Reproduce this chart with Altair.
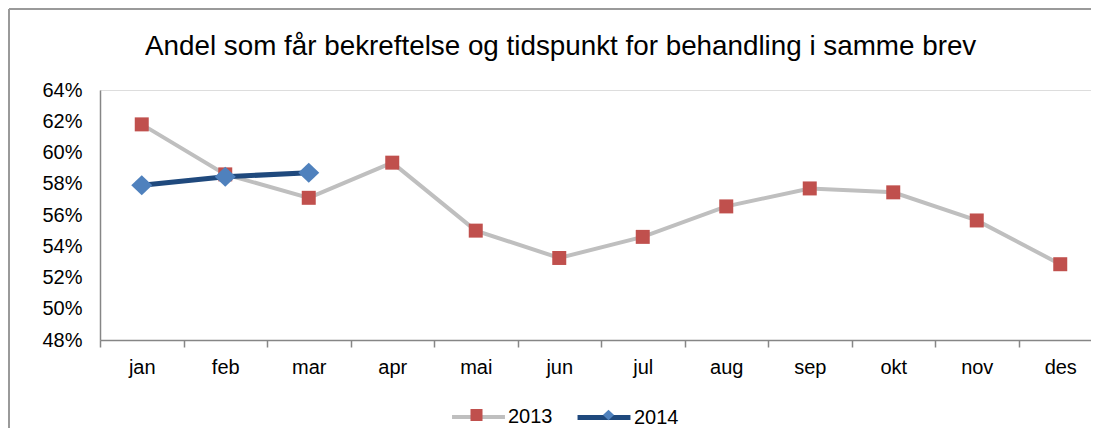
import altair as alt
import pandas as pd

months = ["jan", "feb", "mar", "apr", "mai", "jun", "jul", "aug", "sep", "okt", "nov", "des"]
v2013 = [61.8, 58.6, 57.1, 59.35, 55.0, 53.25, 54.6, 56.55, 57.7, 57.45, 55.65, 52.85]
v2014 = [57.9, 58.45, 58.7]
y_ticks = [0.48, 0.50, 0.52, 0.54, 0.56, 0.58, 0.60, 0.62, 0.64]

rows = []
for m, v in zip(months, v2013):
    rows.append({"month": m, "value": v / 100, "series": "2013"})
for m, v in zip(months, v2014):
    rows.append({"month": m, "value": v / 100, "series": "2014"})
df = pd.DataFrame(rows)

FONT = "Liberation Sans"
SQUARE = "M-0.227,-0.227H0.227V0.227H-0.227Z"
DIAMOND = "M0,-0.2L0.21,0L0,0.2L-0.21,0Z"

x_enc = alt.X(
    "month:N",
    sort=months,
    scale=alt.Scale(type="band", paddingInner=0, paddingOuter=0, range=[0, 1002]),
    axis=alt.Axis(
        title=None, labelAngle=0, tickBand="extent", ticks=True, tickSize=7,
        tickColor="#868686", domainColor="#868686", domainWidth=1.5, tickWidth=1.5,
        labelFont=FONT, labelFontSize=20, labelColor="#000000", labelPadding=10,
        grid=False,
    ),
)
y_enc = alt.Y(
    "value:Q",
    scale=alt.Scale(domain=[0.48, 0.64], nice=False, zero=False),
    axis=alt.Axis(
        title=None, values=y_ticks, format=".0%", ticks=False, grid=False,
        domainColor="#868686", domainWidth=1.5,
        labelFont=FONT, labelFontSize=20, labelColor="#000000", labelPadding=18,
    ),
)

LEG_Y = 298.5


def leg(x, show_label, symbol_type=None, stroke_width=0):
    kw = dict(
        title=None, orient="none", legendX=x, legendY=LEG_Y, direction="horizontal",
        symbolSize=2800, symbolStrokeWidth=stroke_width, padding=0,
        labelFont=FONT, labelFontSize=20,
        labelColor="#000000" if show_label else "transparent", labelOffset=1,
    )
    if symbol_type:
        kw["symbolType"] = symbol_type
    return alt.Legend(**kw)


base = alt.Chart(df)

frame_left = base.mark_rule(stroke="#9A9A9A", strokeWidth=2, clip=False).encode(
    x=alt.value(-91), y=alt.value(-81), y2=alt.value(600)
)
frame_top = base.mark_rule(stroke="#9A9A9A", strokeWidth=2, clip=False).encode(
    x=alt.value(-91), x2=alt.value(1100), y=alt.value(-81)
)

d13 = base.transform_filter("datum.series == '2013'")
d14 = base.transform_filter("datum.series == '2014'")

line13 = d13.mark_line(strokeWidth=4).encode(
    x=x_enc, y=y_enc,
    stroke=alt.Stroke("series:N", scale=alt.Scale(range=["#BFBFBF"]),
                      legend=leg(350, True, "stroke", 4)),
)
pts13 = d13.mark_point(filled=True, size=3800, opacity=1, strokeWidth=0).encode(
    x=x_enc, y=y_enc,
    fill=alt.Fill("series:N", scale=alt.Scale(range=["#C0504D"]), legend=leg(350, False)),
    shape=alt.Shape("series:N", scale=alt.Scale(range=[SQUARE]), legend=leg(350, False)),
)
line14 = d14.mark_line(strokeWidth=5).encode(
    x=x_enc, y=y_enc,
    stroke=alt.Stroke("series:N", scale=alt.Scale(range=["#1F497D"]),
                      legend=leg(475, True, "stroke", 5)),
)
pts14 = d14.mark_point(filled=True, size=10000, opacity=1, strokeWidth=0).encode(
    x=x_enc, y=y_enc,
    fill=alt.Fill("series:N", scale=alt.Scale(range=["#4F81BD"]), legend=leg(482, False)),
    shape=alt.Shape("series:N", scale=alt.Scale(range=[DIAMOND]), legend=leg(482, False)),
)

chart = alt.layer(frame_left, frame_top, line13, pts13, line14, pts14).resolve_scale(
    stroke="independent", fill="independent", shape="independent"
).properties(
    width=991,
    height=250,
    padding={"left": 92, "top": 82, "right": 0, "bottom": 88},
    autosize=alt.AutoSizeParams(type="none"),
    title=alt.TitleParams(
        "Andel som får bekreftelse og tidspunkt for behandling i samme brev",
        font=FONT, fontSize=27.8, fontWeight="normal", color="#000000",
        anchor="start", frame="group", dx=45, offset=-53,
    ),
).configure_view(stroke=None).configure(background="white")

chart.save("out.html", embed_options={"renderer": "svg", "actions": False})
